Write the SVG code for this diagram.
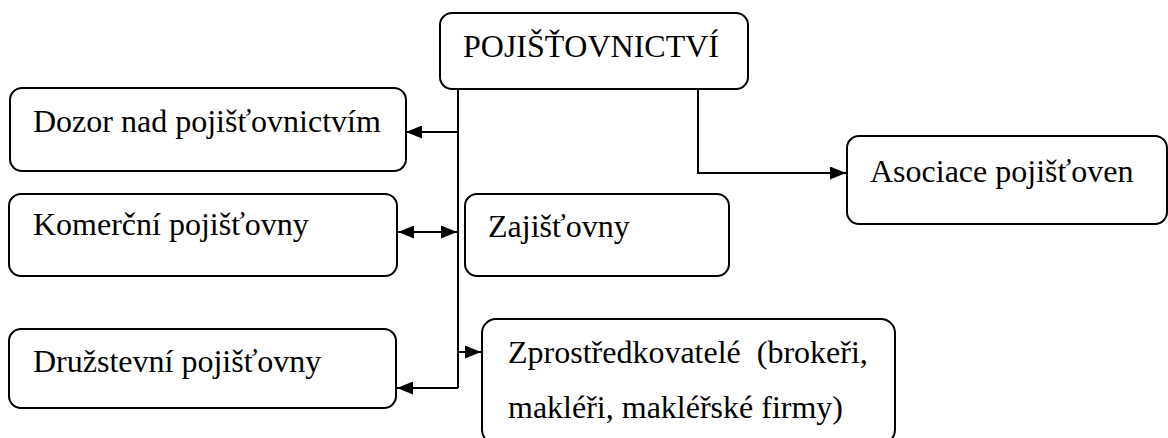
<svg xmlns="http://www.w3.org/2000/svg" width="1168" height="438" viewBox="0 0 1168 438">
<style>
.box{fill:#fff;stroke:#000;stroke-width:2}
.t{font-family:"Liberation Serif","Times New Roman",serif;font-size:32px;fill:#000}
.c{fill:none;stroke:#000;stroke-width:2}
</style>
<defs>
<marker id="ah" markerWidth="16" markerHeight="13" refX="16" refY="6.5" orient="auto-start-reverse" markerUnits="userSpaceOnUse">
<path d="M0,0 L16,6.5 L0,13 Z" fill="#000"/>
</marker>
</defs>
<rect width="1168" height="438" fill="#fff"/>
<g id="connectors">
<path class="c" d="M458,89 V388"/>
<path class="c" d="M458,132 H406" marker-end="url(#ah)"/>
<path class="c" d="M398,232 H457" marker-start="url(#ah)" marker-end="url(#ah)"/>
<path class="c" d="M458,352 H481" marker-end="url(#ah)"/>
<path class="c" d="M458,388 H397" marker-end="url(#ah)"/>
<path class="c" d="M698,89 V173 H846" marker-end="url(#ah)"/>
</g>
<g id="n-root">
<rect class="box" x="440" y="13" width="308" height="76" rx="12"/>
<text class="t" x="463" y="57">POJIŠŤOVNICTVÍ</text>
</g>
<g id="n-dozor">
<rect class="box" x="10" y="88" width="396" height="83" rx="12"/>
<text class="t" x="33" y="132">Dozor nad pojišťovnictvím</text>
</g>
<g id="n-komercni">
<rect class="box" x="9" y="194" width="388" height="82" rx="12"/>
<text class="t" x="33" y="235">Komerční pojišťovny</text>
</g>
<g id="n-zajistovny">
<rect class="box" x="465" y="194" width="264" height="82" rx="12"/>
<text class="t" x="488" y="237">Zajišťovny</text>
</g>
<g id="n-druzstevni">
<rect class="box" x="9" y="329" width="387" height="79" rx="12"/>
<text class="t" x="33" y="372">Družstevní pojišťovny</text>
</g>
<g id="n-zprostredkovatele">
<rect class="box" x="482" y="319" width="413" height="125" rx="14"/>
<text class="t" x="508" y="363" xml:space="preserve">Zprostředkovatelé  (brokeři,</text>
<text class="t" x="508" y="418">makléři, makléřské firmy)</text>
</g>
<g id="n-asociace">
<rect class="box" x="847" y="136" width="320" height="88" rx="12"/>
<text class="t" x="870" y="182">Asociace pojišťoven</text>
</g>
</svg>
